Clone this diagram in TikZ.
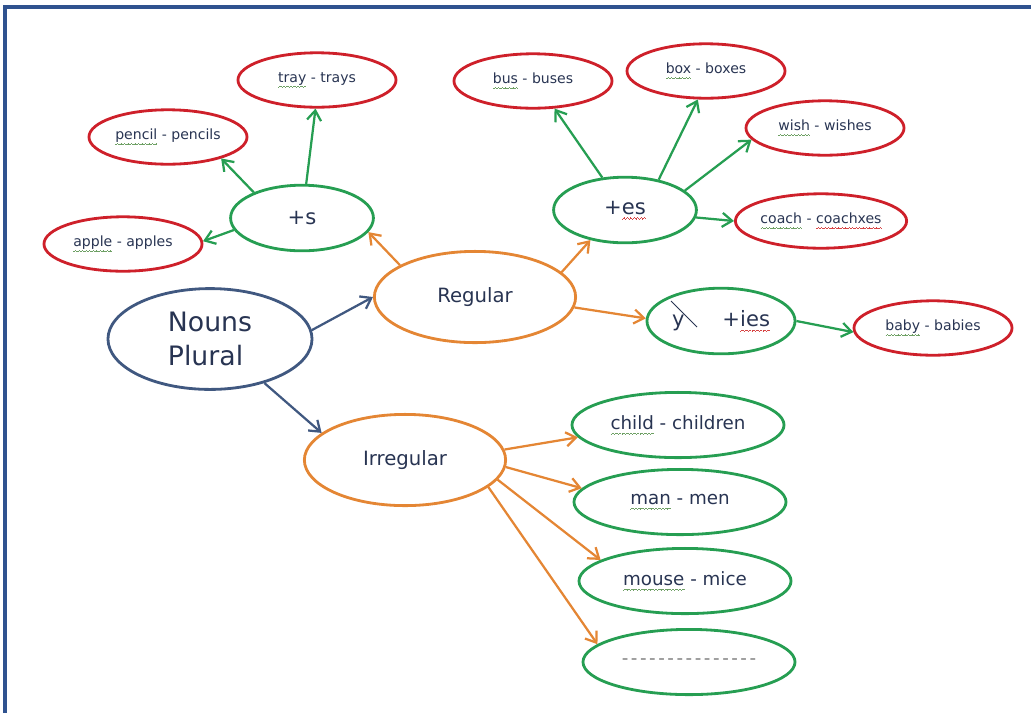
\documentclass[tikz,border=0pt]{standalone}
\usepackage{fontspec}
\setmainfont{DejaVu Sans}
\usetikzlibrary{shapes.geometric,arrows.meta}
\definecolor{framecol}{RGB}{47,82,143}
\definecolor{nounblue}{RGB}{64,88,128}
\definecolor{kindorange}{RGB}{228,134,52}
\definecolor{rulegreen}{RGB}{38,158,82}
\definecolor{wordred}{RGB}{206,32,42}
\definecolor{inkblue}{RGB}{40,52,82}
\definecolor{squiggreen}{RGB}{110,160,100}
\definecolor{squigred}{RGB}{215,70,70}
\newcommand\dashrow{\hbox to 98pt{\color{gray}\cleaders\hbox{\kern0.9pt-\kern0.9pt}\hfill}}
% wavy proofing line under a word
\newlength\wavylen
\newcommand\wavyline[2]{#2\settowidth\wavylen{#2}\llap{\hbox to \wavylen{\color{#1}\xleaders\hbox{\rule[-3.7pt]{0.6pt}{0.5pt}\rule[-3.3pt]{0.6pt}{0.5pt}\rule[-2.9pt]{0.6pt}{0.5pt}\rule[-3.3pt]{0.6pt}{0.5pt}}\hfill}}}
\newcommand\gramline[1]{\wavyline{squiggreen}{#1}}
\newcommand\spellline[1]{\wavyline{squigred}{#1}}

\begin{document}
\begin{tikzpicture}[x=0.025cm,y=-0.025cm,
    oval/.style={ellipse,draw,line width=2pt,inner sep=0pt,text=inkblue},
    nounoval/.style={oval,draw=nounblue,minimum width=5.1cm,minimum height=2.52cm,font=\fontsize{19}{24}\selectfont},
    kindoval/.style={oval,draw=kindorange,minimum width=5.03cm,minimum height=2.28cm,font=\fontsize{14}{17}\selectfont},
    ruleoval/.style={oval,draw=rulegreen,minimum width=3.57cm,minimum height=1.64cm,font=\fontsize{15}{18}\selectfont},
    wordoval/.style={oval,draw=wordred,minimum width=3.95cm,minimum height=1.36cm,font=\fontsize{10}{12}\selectfont},
    irroval/.style={oval,draw=rulegreen,minimum width=5.3cm,minimum height=1.63cm,font=\fontsize{13}{16}\selectfont},
    link/.style={line width=1.6pt,-{Straight Barb[length=7pt,width=10pt]}}]
    \useasboundingbox (0,0) rectangle (1031,713);
    \draw[framecol,line width=2.2pt] (5,713) -- (5,7) -- (1031,7);
    % main ovals
    \node at (210,339) [nounoval,align=left] (nouns) {Nouns\\Plural};
    \node at (475,297) [kindoval] (reg) {Regular};
    \node at (405,460) [kindoval] (irr) {Irregular};
    % rules
    \node at (302,218) [ruleoval] (s) {+s};
    \node at (625,210) [ruleoval] (es) {+\spellline{es}};
    \node at (721,321) [ruleoval,minimum width=3.7cm] (ies) {y\hspace{1.8em}+\spellline{ies}};
    \draw[inkblue,line width=0.7pt] (671,301) -- (697,327);
    % examples
    \node at (317,80) [wordoval] (tray) {\gramline{tray} - trays};
    \node at (168,137) [wordoval] (pencil) {\gramline{pencil} - pencils};
    \node at (123,244) [wordoval] (apple) {\gramline{apple} - apples};
    \node at (533,81) [wordoval] (bus) {\gramline{bus} - buses};
    \node at (706,71) [wordoval] (box) {\gramline{box} - boxes};
    \node at (825,128) [wordoval] (wish) {\gramline{wish} - wishes};
    \node at (821,221) [wordoval] (coach) {\gramline{coach} - \spellline{coachxes}};
    \node at (933,328) [wordoval] (baby) {\gramline{baby} - babies};
    \node at (678,425) [irroval] (child) {\gramline{child} - children};
    \node at (680,502) [irroval] (man) {\gramline{man} - men};
    \node at (685,581) [irroval] (mouse) {\gramline{mouse} - mice};
    \node at (689,662) [irroval] (blank) {\dashrow};
    % arrows
    \draw[link,nounblue] (nouns.5) -- (reg.180);
    \draw[link,nounblue] (nouns.-39) -- (irr.162);
    \draw[link,kindorange] (reg.157) -- (s.-12);
    \draw[link,kindorange] (reg.16) -- (es.-139);
    \draw[link,kindorange] (reg.-6) -- (ies.178);
    \draw[link,rulegreen] (s.190) -- (apple.2);
    \draw[link,rulegreen] (s.152) -- (pencil.-22);
    \draw[link,rulegreen] (s.83) -- (tray.-93);
    \draw[link,rulegreen] (es.125) -- (bus.-52);
    \draw[link,rulegreen] (es.42) -- (box.-106);
    \draw[link,rulegreen] (es.18) -- (wish.189);
    \draw[link,rulegreen] (es.-6) -- (coach.180);
    \draw[link,rulegreen] (ies.0) -- (baby.183);
    \draw[link,kindorange] (irr.6) -- (child.187);
    \draw[link,kindorange] (irr.-4) -- (man.172);
    \draw[link,kindorange] (irr.-12) -- (mouse.166);
    \draw[link,kindorange] (irr.-18) -- (blank.169);
\end{tikzpicture}
\end{document}
